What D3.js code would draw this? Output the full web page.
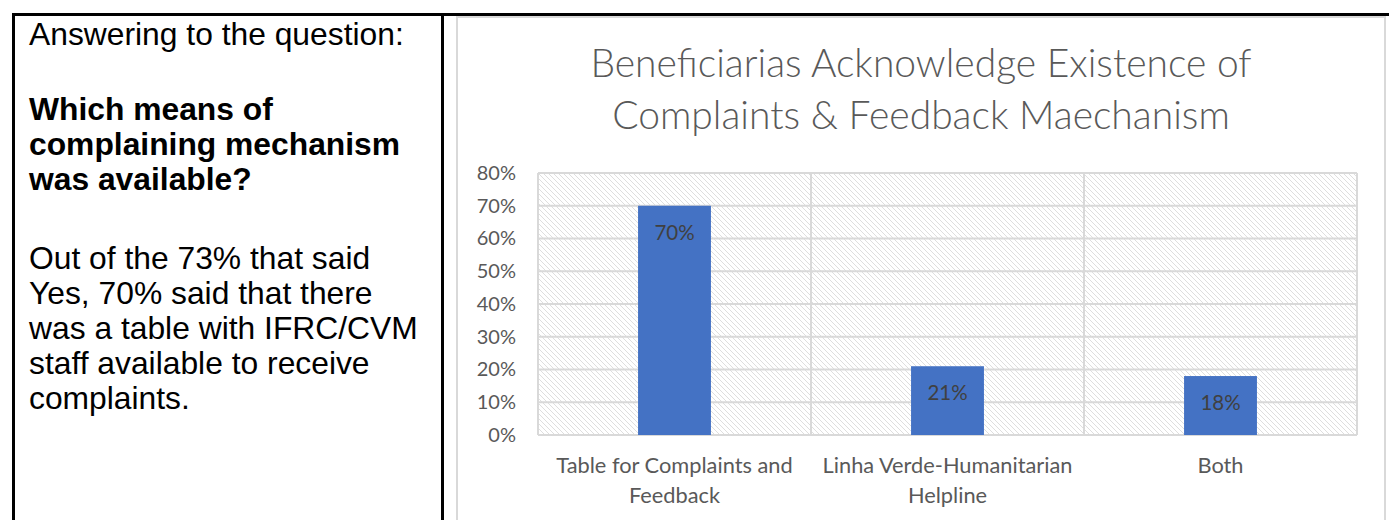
<!DOCTYPE html>
<html>
<head>
<meta charset="utf-8">
<script src="https://cdn.jsdelivr.net/npm/d3@7"></script>
<style>
  html, body { margin: 0; padding: 0; background: #fff; }
  svg { display: block; }
</style>
</head>
<body>
<svg id="chart" width="1389" height="520"></svg>
<script>
// ---- data ----
const categories = ["Table for Complaints and Feedback", "Linha Verde-Humanitarian Helpline", "Both"];
const categoryLines = [["Table for Complaints and", "Feedback"], ["Linha Verde-Humanitarian", "Helpline"], ["Both"]];
const values = [0.70, 0.21, 0.18];
const yTicks = [0, 0.1, 0.2, 0.3, 0.4, 0.5, 0.6, 0.7, 0.8];
const titleLines = ["Beneficiarias Acknowledge Existence of", "Complaints & Feedback Maechanism"];
const introLines = ["Answering to the question:"];
const questionLines = ["Which means of", "complaining mechanism", "was available?"];
const answerLines = ["Out of the 73% that said", "Yes, 70% said that there", "was a table with IFRC/CVM", "staff available to receive", "complaints."];

const svg = d3.select("#chart");

// ---- left text panel ----
const leftFont = "'Liberation Sans', Arial, sans-serif";
const tx = 29;
const lt = svg.append("g").attr("font-family", leftFont).attr("font-size", 31.8).attr("fill", "#000");
introLines.forEach((t, i) => lt.append("text").attr("x", tx).attr("y", 45 + i * 35).text(t));
questionLines.forEach((t, i) => lt.append("text").attr("x", tx).attr("y", 120 + i * 35).attr("font-weight", "bold").text(t));
answerLines.forEach((t, i) => lt.append("text").attr("x", tx).attr("y", 269 + i * 35).text(t));

// ---- table borders ----
svg.append("rect").attr("x", 12).attr("y", 13).attr("width", 1377).attr("height", 3).attr("fill", "#000");
svg.append("rect").attr("x", 12).attr("y", 13).attr("width", 3).attr("height", 507).attr("fill", "#000");
svg.append("rect").attr("x", 441).attr("y", 13).attr("width", 3).attr("height", 507).attr("fill", "#000");

// ---- chart area frame ----
svg.append("rect").attr("x", 457).attr("y", 17).attr("width", 928).attr("height", 520)
  .attr("fill", "#fff").attr("stroke", "#d9d9d9").attr("stroke-width", 2);

// ---- pattern ----
const defs = svg.append("defs");
const pat = defs.append("pattern").attr("id", "hatch").attr("patternUnits", "userSpaceOnUse")
  .attr("width", 5).attr("height", 5);
pat.append("rect").attr("width", 5).attr("height", 5).attr("fill", "#fff");
pat.append("path").attr("d", "M-1,-1 L6,6 M-1,4 L1,6 M4,-1 L6,1")
  .attr("stroke", "#dedede").attr("stroke-width", 1);

// ---- scales ----
const plot = { left: 538, right: 1357, top: 173, bottom: 435 };
const x = d3.scaleBand().domain(categories).range([plot.left, plot.right]).padding(0);
const y = d3.scaleLinear().domain([0, 0.8]).range([plot.bottom, plot.top]);
const barW = x.bandwidth() * 0.267;

const chartFont = "Lato, 'Open Sans', sans-serif";

// plot background
svg.append("rect").attr("x", plot.left).attr("y", plot.top)
  .attr("width", plot.right - plot.left).attr("height", plot.bottom - plot.top)
  .attr("fill", "url(#hatch)");

// horizontal gridlines
svg.append("g").selectAll("line").data(yTicks).join("line")
  .attr("x1", plot.left).attr("x2", plot.right)
  .attr("y1", d => y(d)).attr("y2", d => y(d))
  .attr("stroke", "#d9d9d9").attr("stroke-width", 2);

// vertical gridlines (category boundaries)
const bounds = categories.map(c => x(c)).concat([plot.right]);
svg.append("g").selectAll("line").data(bounds).join("line")
  .attr("x1", d => d).attr("x2", d => d)
  .attr("y1", plot.top).attr("y2", plot.bottom)
  .attr("stroke", "#d9d9d9").attr("stroke-width", 2);

// y axis
const yAxis = d3.axisLeft(y).tickValues(yTicks).tickFormat(d3.format(".0%")).tickSize(0).tickPadding(22);
const yg = svg.append("g").attr("transform", `translate(${plot.left},0)`).call(yAxis);
yg.select(".domain").remove();
yg.selectAll("text").attr("font-family", chartFont).attr("font-size", 20).attr("fill", "#595959");

// bars
svg.append("g").selectAll("rect").data(values).join("rect")
  .attr("x", (d, i) => x(categories[i]) + (x.bandwidth() - barW) / 2)
  .attr("y", d => y(d))
  .attr("width", barW)
  .attr("height", d => y(0) - y(d))
  .attr("fill", "#4472c4");

// data labels
svg.append("g").selectAll("text").data(values).join("text")
  .attr("x", (d, i) => x(categories[i]) + x.bandwidth() / 2)
  .attr("y", d => y(d) + 34)
  .attr("text-anchor", "middle")
  .attr("font-family", chartFont).attr("font-size", 20.5).attr("fill", "#404040")
  .text(d => d3.format(".0%")(d));

// category labels
const cg = svg.append("g").attr("font-family", chartFont).attr("font-size", 21.8).attr("fill", "#595959").attr("text-anchor", "middle");
categoryLines.forEach((lines, i) => {
  lines.forEach((t, j) => {
    cg.append("text").attr("x", x(categories[i]) + x.bandwidth() / 2).attr("y", 473 + j * 30).text(t);
  });
});

// title
const tg = svg.append("g").attr("font-family", chartFont).attr("font-weight", 300).attr("font-size", 39).attr("fill", "#595959").attr("text-anchor", "middle");
titleLines.forEach((t, i) => tg.append("text").attr("x", 921).attr("y", 77 + i * 52).text(t));
</script>
</body>
</html>
